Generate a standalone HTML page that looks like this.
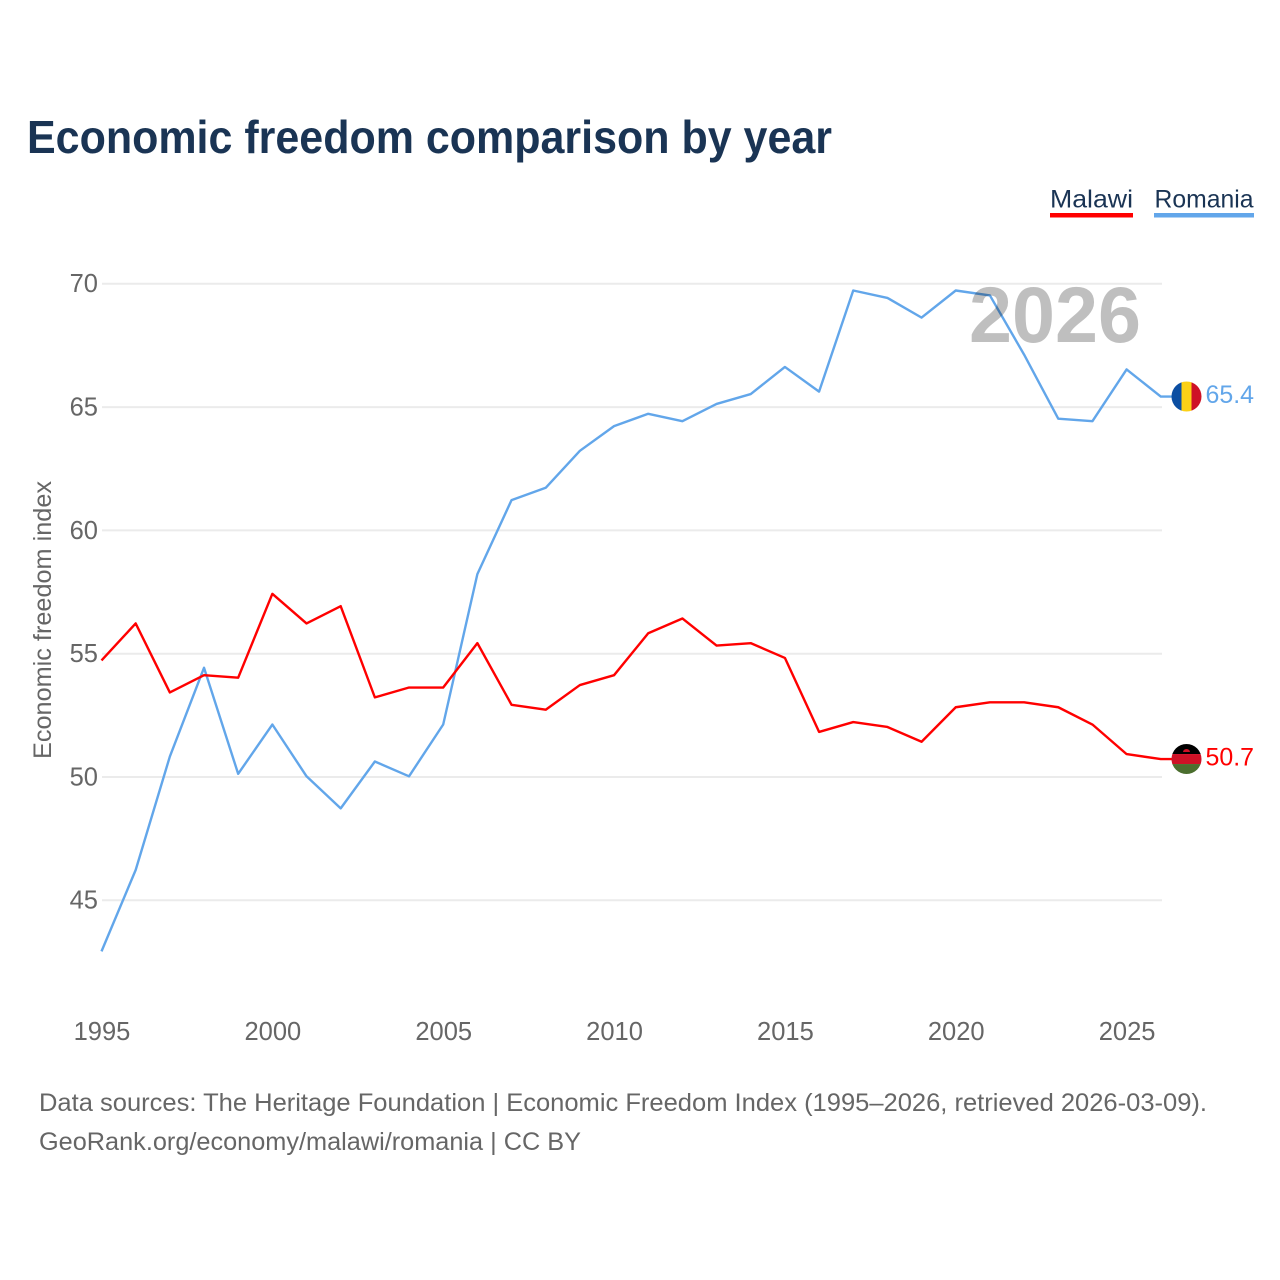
<!DOCTYPE html>
<html>
<head>
<meta charset="utf-8">
<title>Economic freedom comparison by year</title>
<style>
html,body{margin:0;padding:0;background:#fff;}
svg{display:block;}
text{font-family:"Liberation Sans",sans-serif;}
</style>
</head>
<body>
<svg id="chart" xmlns="http://www.w3.org/2000/svg" width="1280" height="1280" viewBox="0 0 1280 1280">
  <rect x="0" y="0" width="1280" height="1280" fill="#ffffff"/>
  <text x="27" y="153" font-size="46" font-weight="700" fill="#1a3454" textLength="805" lengthAdjust="spacingAndGlyphs">Economic freedom comparison by year</text>

  <g>
    <text x="1050" y="207.5" font-size="25" fill="#1a3454" textLength="83" lengthAdjust="spacingAndGlyphs">Malawi</text>
    <rect x="1050" y="213" width="83" height="4.5" fill="#ff0000"/>
    <text x="1154.5" y="207.5" font-size="25" fill="#1a3454" textLength="99" lengthAdjust="spacingAndGlyphs">Romania</text>
    <rect x="1154" y="213" width="100" height="4.5" fill="#62a6ea"/>
  </g>

  <g id="grid"></g>
  <g id="yticks"></g>
  <g id="xticks"></g>
  <text transform="translate(51,759) rotate(-90)" x="0" y="0" font-size="25" fill="#666666" textLength="278" lengthAdjust="spacingAndGlyphs">Economic freedom index</text>

  <g id="series"></g>

  <text x="969" y="342" font-size="79" font-weight="700" fill="#000000" fill-opacity="0.25" textLength="172" lengthAdjust="spacingAndGlyphs">2026</text>

  <defs>
    <clipPath id="clip-ro"><circle cx="1186.5" cy="396" r="15"/></clipPath>
    <clipPath id="clip-mw"><circle cx="1186.5" cy="759" r="15"/></clipPath>
  </defs>
  <g id="flag-romania" clip-path="url(#clip-ro)">
    <rect x="1171.5" y="381" width="10" height="30" fill="#0b4ea2"/>
    <rect x="1181.5" y="381" width="10" height="30" fill="#fcd116"/>
    <rect x="1191.5" y="381" width="10" height="30" fill="#ce1126"/>
  </g>
  <g id="flag-malawi" clip-path="url(#clip-mw)">
    <rect x="1171.5" y="744" width="30" height="10" fill="#000000"/>
    <rect x="1171.5" y="754" width="30" height="10" fill="#ce1126"/>
    <rect x="1171.5" y="764" width="30" height="10" fill="#4b6e2e"/>
    <path d="M1183 752 a3.5 3 0 0 1 7 0 z" fill="#ce1126"/>
  </g>
  <text id="label-romania" x="1205.5" y="403" font-size="25" fill="#62a6ea" textLength="48.5" lengthAdjust="spacingAndGlyphs"></text>
  <text id="label-malawi" x="1205.5" y="766" font-size="25" fill="#ff0000" textLength="48.5" lengthAdjust="spacingAndGlyphs"></text>

  <text x="39" y="1111" font-size="25" fill="#666666" textLength="1168" lengthAdjust="spacingAndGlyphs">Data sources: The Heritage Foundation | Economic Freedom Index (1995–2026, retrieved 2026-03-09).</text>
  <text x="39" y="1150" font-size="25" fill="#666666" textLength="542" lengthAdjust="spacingAndGlyphs">GeoRank.org/economy/malawi/romania | CC BY</text>
</svg>
<script>
const years = [1995,1996,1997,1998,1999,2000,2001,2002,2003,2004,2005,2006,2007,2008,2009,2010,2011,2012,2013,2014,2015,2016,2017,2018,2019,2020,2021,2022,2023,2024,2025,2026];
const malawi = [54.7,56.2,53.4,54.1,54.0,57.4,56.2,56.9,53.2,53.6,53.6,55.4,52.9,52.7,53.7,54.1,55.8,56.4,55.3,55.4,54.8,51.8,52.2,52.0,51.4,52.8,53.0,53.0,52.8,52.1,50.9,50.7];
const romania = [42.9,46.2,50.8,54.4,50.1,52.1,50.0,48.7,50.6,50.0,52.1,58.2,61.2,61.7,63.2,64.2,64.7,64.4,65.1,65.5,66.6,65.6,69.7,69.4,68.6,69.7,69.5,67.1,64.5,64.4,66.5,65.4];
const yTicks = [45,50,55,60,65,70];
const xTicks = [1995,2000,2005,2010,2015,2020,2025];

const NS = 'http://www.w3.org/2000/svg';
function xScale(year){ return 101.5 + (year - 1995) * 34.17; }
function yScale(v){ return 776.3 - (v - 50) * 24.66; }
function make(tag, attrs, parent){
  const el = document.createElementNS(NS, tag);
  for (const k in attrs) el.setAttribute(k, attrs[k]);
  parent.appendChild(el);
  return el;
}

const grid = document.getElementById('grid');
const yt = document.getElementById('yticks');
yTicks.forEach(function(t){
  const gy = yScale(t) + 0.7;
  const line = make('line', {x1:102, x2:1162, y1:gy, y2:gy, stroke:'#ebebeb', 'stroke-width':2}, grid);
  
  
  const label = make('text', {x:98, y:gy + 8.4, 'text-anchor':'end', 'font-size':25.5, fill:'#666666'}, yt);
  
  
  label.textContent = t;
});

const xt = document.getElementById('xticks');
xTicks.forEach(function(t){
  const label = make('text', {x:xScale(t) + 0.5, y:1040, 'text-anchor':'middle', 'font-size':25.5, fill:'#666666'}, xt);
  
  
  label.textContent = t;
});

const seriesGroup = document.getElementById('series');
function drawSeries(values, color){
  const pts = values.map(function(v, i){ return xScale(years[i]).toFixed(2) + ',' + yScale(v).toFixed(2); });
  const last = values[values.length - 1];
  pts.push('1172,' + yScale(last).toFixed(2));
  return make('polyline', {points:pts.join(' '), fill:'none', stroke:color, 'stroke-width':2.4, 'stroke-linejoin':'round'}, seriesGroup);
}
const romaniaLine = drawSeries(romania, '#62a6ea');


const malawiLine = drawSeries(malawi, '#ff0000');



function placeEnd(values, flagId, labelId){
  const v = values[values.length - 1];
  const y = yScale(v);
  const base = flagId === 'flag-romania' ? 396 : 759;
  document.getElementById(flagId).setAttribute('transform', 'translate(0,' + (y - base) + ')');
  const lab = document.getElementById(labelId);
  lab.setAttribute('y', y + 6.7);
  lab.textContent = v.toFixed(1);
}
placeEnd(romania, 'flag-romania', 'label-romania');
placeEnd(malawi, 'flag-malawi', 'label-malawi');
</script>
</body>
</html>
